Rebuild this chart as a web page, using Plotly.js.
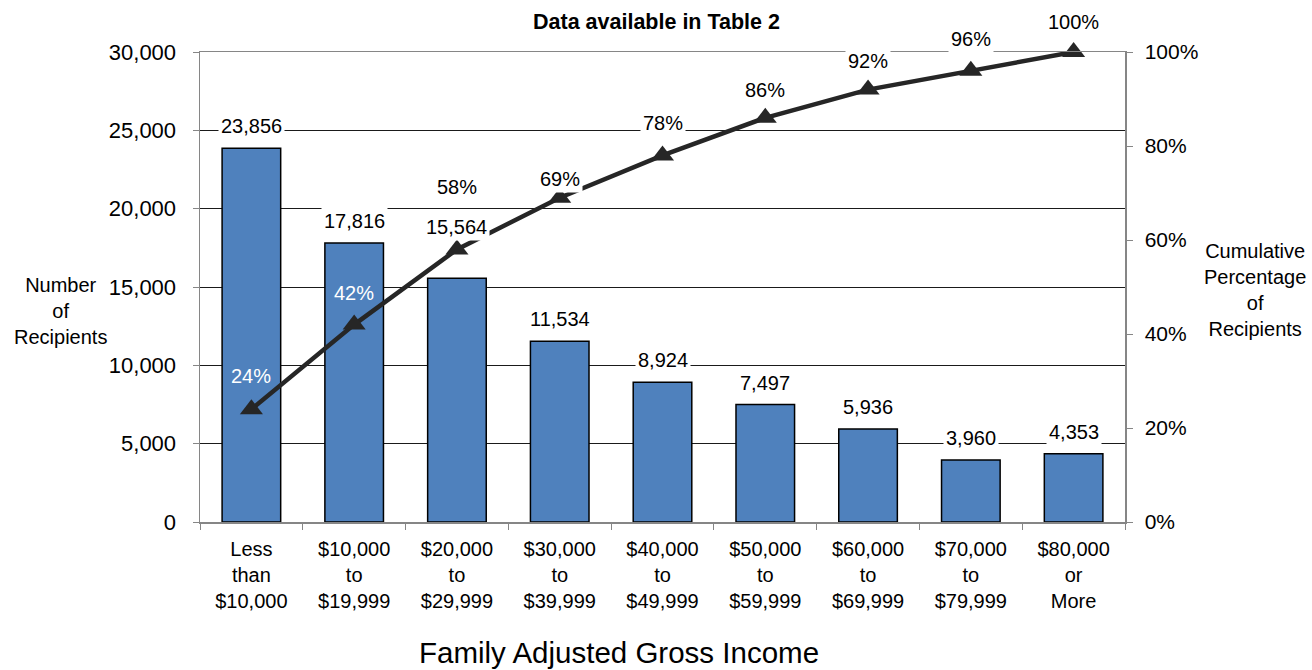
<!DOCTYPE html>
<html>
<head>
<meta charset="utf-8">
<script src="https://cdn.plot.ly/plotly-3.0.1.min.js"></script>
<style>html,body{margin:0;padding:0;background:#fff;}#chart{width:1312px;height:670px;}</style>
</head>
<body>
<div id="chart"></div>
<script>
const categories = ["Less<br>than<br>$10,000", "$10,000<br>to<br>$19,999", "$20,000<br>to<br>$29,999", "$30,000<br>to<br>$39,999", "$40,000<br>to<br>$49,999", "$50,000<br>to<br>$59,999", "$60,000<br>to<br>$69,999", "$70,000<br>to<br>$79,999", "$80,000<br>or<br>More"];
const recipients = [23856, 17816, 15564, 11534, 8924, 7497, 5936, 3960, 4353];
const cumulativePct = [24, 42, 58, 69, 78, 86, 92, 96, 100];
const subtitle = "Data available in Table 2";
const xTitle = "Family Adjusted Gross Income";
const yTitle = "Number<br>of<br>Recipients";
const y2Title = "Cumulative<br>Percentage<br>of<br>Recipients";

const FONT = "'Liberation Sans', Arial, sans-serif";

const bars = {
  type: "bar", x: categories, y: recipients,
  marker: {color: "#4F81BD", line: {color: "#000000", width: 1.5}},
  width: 0.57, hoverinfo: "skip", showlegend: false
};
const line = {
  type: "scatter", mode: "lines+markers", x: categories, y: cumulativePct, yaxis: "y2",
  line: {color: "#262626", width: 4.5},
  marker: {symbol: "triangle-up", size: 20, color: "#262626"},
  hoverinfo: "skip", showlegend: false, cliponaxis: false
};

const annotations = [];
// bar value labels
recipients.forEach((v, i) => {
  annotations.push({
    x: categories[i], y: v, xref: "x", yref: "y",
    text: v.toLocaleString("en-US"), showarrow: false,
    yanchor: "middle", yshift: (i === 2 ? 51 : 22),
    bgcolor: "#ffffff", borderpad: 2,
    font: {family: FONT, size: 20, color: "#000"}
  });
});
// cumulative percent labels
const pctShift = [33, 32, 62, 19, 32, 28, 29, 32, 30];
cumulativePct.forEach((v, i) => {
  const inside = i < 2;
  annotations.push({
    x: categories[i], y: v, xref: "x", yref: "y2",
    text: v + "%", showarrow: false,
    yanchor: "middle", yshift: pctShift[i],
    bgcolor: inside ? "rgba(0,0,0,0)" : "#ffffff", borderpad: 2,
    font: {family: FONT, size: 20, color: inside ? "#ffffff" : "#000"}
  });
});
// titles
annotations.push({xref: "paper", yref: "paper", x: 0.494, y: 1.064, text: "<b>" + subtitle + "</b>",
  showarrow: false, xanchor: "center", yanchor: "middle", font: {family: FONT, size: 21.5, color: "#000"}});
annotations.push({xref: "paper", yref: "paper", x: 0.4535, y: -0.277, text: xTitle,
  showarrow: false, xanchor: "center", yanchor: "middle", font: {family: FONT, size: 29.5, color: "#000"}});
annotations.push({xref: "paper", yref: "paper", x: -0.1505, y: 0.45, text: yTitle,
  showarrow: false, xanchor: "center", yanchor: "middle", font: {family: FONT, size: 20, color: "#000"}});
annotations.push({xref: "paper", yref: "paper", x: 1.1405, y: 0.494, text: y2Title,
  showarrow: false, xanchor: "center", yanchor: "middle", font: {family: FONT, size: 20, color: "#000"}});

const layout = {
  width: 1312, height: 670, autosize: false,
  margin: {l: 200, r: 187, t: 52, b: 148, pad: 0},
  paper_bgcolor: "#fff", plot_bgcolor: "#fff",
  font: {family: FONT, color: "#000"},
  showlegend: false,
  xaxis: {
    type: "category", range: [-0.5, categories.length - 0.5], autorange: false,
    showline: true, mirror: true, linecolor: "#868686", linewidth: 1.5,
    ticks: "outside", tickson: "boundaries", ticklen: 6, tickcolor: "#868686", ticklabelstandoff: 8,
    tickfont: {family: FONT, size: 20, color: "#000"}, showgrid: false, zeroline: false,
    tickangle: 0, automargin: false
  },
  yaxis: {
    range: [0, 30000], tick0: 0, dtick: 5000, tickformat: ",d",
    showline: true, linecolor: "#868686", linewidth: 1.5,
    ticks: "outside", ticklen: 6, tickcolor: "#868686", ticklabelstandoff: 12,
    tickfont: {family: FONT, size: 22, color: "#000"}, automargin: false,
    showgrid: true, gridcolor: "#1a1a1a", gridwidth: 1, zeroline: false
  },
  yaxis2: {
    range: [0, 100], tick0: 0, dtick: 20, ticksuffix: "%", overlaying: "y", side: "right",
    showline: true, linecolor: "#868686", linewidth: 1.5,
    ticks: "outside", ticklen: 6, tickcolor: "#868686", ticklabelstandoff: 8,
    tickfont: {family: FONT, size: 21, color: "#000"}, automargin: false,
    showgrid: false, zeroline: false
  },
  bargap: 0.43,
  annotations: annotations
};

Plotly.newPlot("chart", [bars, line], layout, {displayModeBar: false, staticPlot: true});
</script>
</body>
</html>
